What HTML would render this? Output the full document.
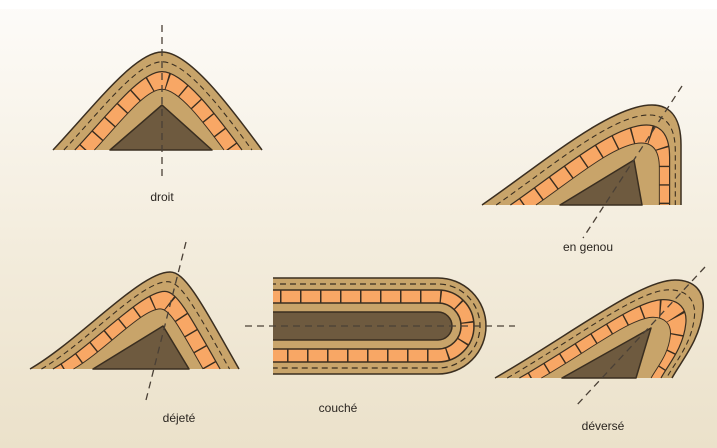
<!DOCTYPE html>
<html><head><meta charset="utf-8"><style>
html,body{margin:0;padding:0;width:717px;height:448px;overflow:hidden}
body{background:linear-gradient(#fdfcfa 0px,#fbf8f2 60px,#f3ecdc 250px,#ebe1ca 448px)}
svg{position:absolute;left:0;top:0}
text{font-family:"Liberation Sans",sans-serif;font-size:12px;fill:#2a2520}
.ol{stroke:#3a2e20;stroke-width:1.5;vector-effect:non-scaling-stroke}
.dl{fill:none;stroke:#3a2e20;stroke-width:1.2;stroke-dasharray:6 4;vector-effect:non-scaling-stroke}
.br{fill:none;stroke:#3a2e20;stroke-width:30;stroke-dasharray:2 24;vector-effect:non-scaling-stroke}
.t{fill:#c8a46a}.o{fill:#f8a765}.k{fill:#6e5a3f;stroke:#3a2e20;stroke-width:1.5;stroke-linejoin:round}
</style></head><body>
<svg width="717" height="448" viewBox="0 0 717 448">
<defs>
<path id="d1" d="M53,150 C95,105 135,52 162,52 C189,52 229,105 262,150"/>
<path id="d2" d="M482,205 C540,165 610,105 652,105 C672,105 681,120 681,145 L681,205"/>
<path id="d3" d="M30,369 C80,340 140,272 170,272 C185,272 200,300 239,369"/>
<path id="d4" d="M495,378 C570,335 640,280 675,280 C695,280 705,292 703,310 C700,340 682,360 672,378"/>
<clipPath id="o1"><use href="#d1" transform="translate(162,150) scale(0.8) translate(-162,-150)"/></clipPath>
<clipPath id="o2"><use href="#d2" transform="translate(624,205) scale(0.8) translate(-624,-205)"/></clipPath>
<clipPath id="o3"><use href="#d3" transform="translate(144.5,369) scale(0.8) translate(-144.5,-369)"/></clipPath>
<clipPath id="o4"><use href="#d4" transform="translate(617,378) scale(0.8) translate(-617,-378)"/></clipPath>
</defs>
<rect x="0" y="0" width="717" height="9" fill="#ffffff"/>

<g>
<use href="#d1" class="t ol"/>
<use href="#d1" class="dl" transform="translate(162,150) scale(0.9) translate(-162,-150)"/>
<use href="#d1" class="o ol" transform="translate(162,150) scale(0.8) translate(-162,-150)"/>
<g clip-path="url(#o1)"><use href="#d1" class="br" transform="translate(162,150) scale(0.71) translate(-162,-150)"/></g>
<use href="#d1" class="t ol" transform="translate(162,150) scale(0.62) translate(-162,-150)"/>
<polygon class="k" points="110,150 162,105 212,150"/>
</g>
<g>
<use href="#d2" class="t ol"/>
<use href="#d2" class="dl" transform="translate(624,205) scale(0.9) translate(-624,-205)"/>
<use href="#d2" class="o ol" transform="translate(624,205) scale(0.8) translate(-624,-205)"/>
<g clip-path="url(#o2)"><use href="#d2" class="br" transform="translate(624,205) scale(0.71) translate(-624,-205)"/></g>
<use href="#d2" class="t ol" transform="translate(624,205) scale(0.62) translate(-624,-205)"/>
<polygon class="k" points="560,205 634,160 642,205"/>
</g>
<g>
<use href="#d3" class="t ol"/>
<use href="#d3" class="dl" transform="translate(144.5,369) scale(0.9) translate(-144.5,-369)"/>
<use href="#d3" class="o ol" transform="translate(144.5,369) scale(0.8) translate(-144.5,-369)"/>
<g clip-path="url(#o3)"><use href="#d3" class="br" transform="translate(144.5,369) scale(0.71) translate(-144.5,-369)"/></g>
<use href="#d3" class="t ol" transform="translate(144.5,369) scale(0.62) translate(-144.5,-369)"/>
<polygon class="k" points="93,369 163,326 189,369"/>
</g>
<g>
<use href="#d4" class="t ol"/>
<use href="#d4" class="dl" transform="translate(617,378) scale(0.9) translate(-617,-378)"/>
<use href="#d4" class="o ol" transform="translate(617,378) scale(0.8) translate(-617,-378)"/>
<g clip-path="url(#o4)"><use href="#d4" class="br" transform="translate(617,378) scale(0.71) translate(-617,-378)"/></g>
<use href="#d4" class="t ol" transform="translate(617,378) scale(0.62) translate(-617,-378)"/>
<polygon class="k" points="562,378 651,328 636,378"/>
</g>

<clipPath id="c5"><rect x="273" y="200" width="230" height="200"/></clipPath>
<g clip-path="url(#c5)" fill="none">
<path d="M260,278 L438,278 A48,48 0 0 1 438,374 L260,374Z" fill="#c8a46a" stroke="#3a2e20" stroke-width="1.5"/>
<path d="M260,284 L438,284 A42,42 0 0 1 438,368 L260,368" stroke="#3a2e20" stroke-width="1.2" stroke-dasharray="6 4"/>
<path d="M260,290 L438,290 A36,36 0 0 1 438,362 L260,362Z" fill="#f8a765" stroke="#3a2e20" stroke-width="1.5"/>
<path d="M260,296.5 L438,296.5 A29.5,29.5 0 0 1 438,355.5 L260,355.5" stroke="#3a2e20" stroke-width="13" stroke-dasharray="1.5 18.5"/>
<path d="M260,303 L438,303 A23,23 0 0 1 438,349 L260,349Z" fill="#c8a46a" stroke="#3a2e20" stroke-width="1.5"/>
<path d="M260,312 L438,312 A14,14 0 0 1 438,340 L260,340Z" fill="#6e5a3f" stroke="#3a2e20" stroke-width="1.5"/>
</g>

<g stroke="#4a4036" stroke-width="1.3" stroke-dasharray="7 5" fill="none">
<line x1="162" y1="25" x2="162" y2="180"/>
<line x1="682" y1="86" x2="583" y2="238"/>
<line x1="186" y1="242" x2="145" y2="404"/>
<line x1="245" y1="326" x2="515" y2="326"/>
<line x1="705" y1="267" x2="575" y2="407"/>
</g>
<text x="162" y="201" text-anchor="middle">droit</text>
<text x="588" y="251" text-anchor="middle">en genou</text>
<text x="179" y="422" text-anchor="middle">déjeté</text>
<text x="338" y="412" text-anchor="middle">couché</text>
<text x="603" y="430" text-anchor="middle">déversé</text>
</svg>
</body></html>
